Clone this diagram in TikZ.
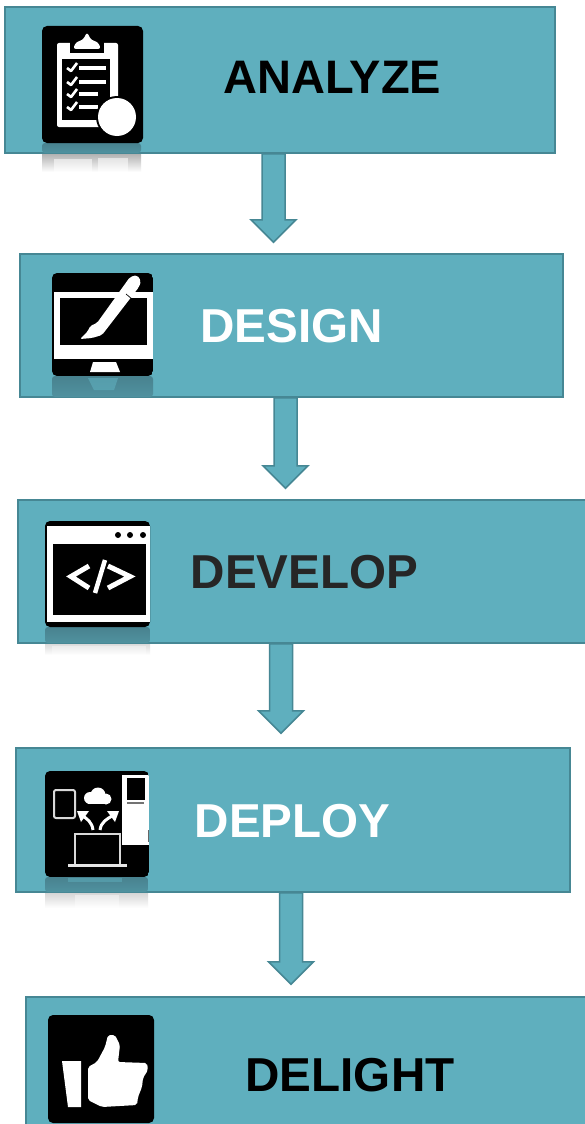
\documentclass[tikz,border=0pt]{standalone}
\usepackage{fontspec}
\setmainfont{Liberation Sans}
\usetikzlibrary{calc}
\definecolor{tealfill}{RGB}{95,175,190}
\definecolor{tealline}{RGB}{70,135,148}
\definecolor{tealdark}{RGB}{72,130,143}
\tikzset{
  box/.style={draw=tealline,fill=tealfill,line width=1.5pt,rectangle,inner sep=0pt},
  blockarrow/.style={draw=tealline,fill=tealfill,line width=1.5pt,line join=miter},
  label/.style={font=\bfseries\fontsize{47.6}{50}\selectfont,inner sep=0pt},
  iconbg/.style={fill=black,rounded corners=5pt},
  wline/.style={draw=white,line width=3.2pt},
  wthin/.style={draw=white,line width=2.6pt,line join=round},
}
\newcommand{\blockarr}[5]{%
  \coordinate (#4) at (#3,0);
  \draw[blockarrow] let \p1=(#1.south -| #4), \p2=(#2.north -| #4) in
    (\x1-11.5pt,\y1) -- (\x1+11.5pt,\y1) -- (\x1+11.5pt,\y2+#5pt+22.5pt) -- (\x1+22.5pt,\y2+#5pt+22.5pt)
    -- (\x1,\y2+#5pt) -- (\x1-22.5pt,\y2+#5pt+22.5pt) -- (\x1-11.5pt,\y2+#5pt+22.5pt) -- cycle;
}
% x1, x2, icon bottom, box bottom, fade end, gray strength
\newcommand{\reflectbar}[6]{%
  \shade[top color=tealdark,bottom color=tealdark!65!tealfill,rounded corners=3pt] (#1,#3) rectangle (#2,#4);
  \shade[top color=black!#6,bottom color=white] (#1,#4+1) rectangle (#2,#5);
}
\begin{document}
\begin{tikzpicture}[x=1pt,y=-1pt]
\clip (0,0) rectangle (585,1124);
\fill[white] (0,0) rectangle (585,1124);
% boxes
\node[box,minimum width=550pt,minimum height=146pt] (b1) at (280,80) {};
\node[box,minimum width=543pt,minimum height=143pt] (b2) at (291.5,325.5) {};
\node[box,minimum width=572pt,minimum height=143pt] (b3) at (304,571.5) {};
\node[box,minimum width=554pt,minimum height=144pt] (b4) at (293,820) {};
\node[box,minimum width=566pt,minimum height=140pt] (b5) at (309,1067) {};
% arrows
\blockarr{b1}{b2}{273.5}{a1}{11}
\blockarr{b2}{b3}{285.5}{a2}{11}
\blockarr{b3}{b4}{281}{a3}{14}
\blockarr{b4}{b5}{291}{a4}{12}
% reflections
\reflectbar{42}{141}{143}{153}{172}{30}
\reflectbar{52}{153}{376}{397}{398}{5}
\reflectbar{45}{150}{627}{643}{655}{14}
\reflectbar{45}{148}{877}{892}{908}{16}
% reflection details
\fill[white,opacity=.55] (54,159) rectangle (92,172);
\fill[white,opacity=.55] (98,158) rectangle (128,172);
\fill[tealfill,opacity=.6] (88,378) -- (118,378) -- (114,390) -- (94,390) -- cycle;
\fill[white,opacity=.35] (52,646) rectangle (146,655);
\fill[white,opacity=.4] (75,895) rectangle (119,908);
\fill[tealfill,opacity=.5] (68,878) rectangle (122,882);
% icon 1: clipboard
\begin{scope}
\fill[iconbg] (42,26) rectangle (143,143);
\fill[white,rounded corners=2pt] (57,43) rectangle (118,127);
\fill[black] (62,59) rectangle (110,120);
\fill[black] (70,38) rectangle (104,53);
\fill[white,rounded corners=3pt] (73,49) -- (76,42) -- (83,40) -- (87,32) -- (91,40) -- (98,42) -- (101,49) -- cycle;
\foreach \yy/\xe in {68/106,82/106,94/98,107/98}{
  \draw[wline] (79,\yy) -- (\xe,\yy);
  \draw[wthin] (67,\yy) -- (71,\yy+3) -- (77,\yy-5);
}
\fill[black] (117,117) circle (21);
\fill[white] (117,117) circle (19);
\end{scope}
% icon 2: monitor and pen
\begin{scope}
\path[clip,rounded corners=5pt] (52,273) rectangle (153,376);
\fill[black] (52,273) rectangle (153,376);
\fill[white] (54,292) rectangle (153,359);
\fill[black] (60,298) rectangle (147,345);
\fill[white] (93,362) -- (116,362) -- (120,372) -- (90,372) -- cycle;
\fill[white,rounded corners=2pt] (130,277) -- (137,275) -- (141,281) -- (139,287) -- (102,335) -- (92,338) -- (80,339) -- (88,331) -- (90,326) -- (97,323) -- cycle;
\draw[black,line width=.7pt] (126,294) -- (132,299);
\end{scope}
% icon 3: code window
\begin{scope}
\fill[iconbg] (45,521) rectangle (150,627);
\fill[white] (47,526) rectangle (150,622);
\fill[black] (53,544) rectangle (146,615);
\foreach \xx in {118,130,143}{\fill[black] (\xx,535) circle (3);}
\draw[white,line width=5pt,line join=miter] (89,566) -- (71,576.5) -- (89,588);
\draw[white,line width=5pt,line join=miter] (108,566) -- (130,576.5) -- (108,588);
\draw[white,line width=4.5pt] (105,560) -- (95,593);
\end{scope}
% icon 4: deploy
\begin{scope}
\path[clip,rounded corners=5pt] (45,771) rectangle (149,877);
\fill[black] (45,771) rectangle (149,877);
\draw[black!15,line width=2pt,rounded corners=2pt] (54,790) rectangle (75,818);
\fill[white] (90,798) circle (6);
\fill[white] (98,795) circle (7.5);
\fill[white] (106,799) circle (5.5);
\fill[white] (88,798) rectangle (108,803.5);
\draw[wthin,line width=3pt] (93,830) .. controls (92,822) and (87,819) .. (83,816);
\fill[white] (77,811) -- (89,811) -- (81,822) -- cycle;
\draw[wthin,line width=3pt] (100,830) .. controls (101,822) and (107,819) .. (112,816);
\fill[white] (119,811) -- (107,811) -- (115,822) -- cycle;
\draw[black!15,line width=2pt] (75,864) -- (75,834) -- (120,834) -- (120,864);
\draw[black!10,line width=3pt] (68,865) -- (127,865);
\fill[white] (122,775) rectangle (149,845);
\fill[black] (127,778) rectangle (145,800);
\fill[black!55] (127,802) rectangle (144,804);
\fill[black!60] (148,830) rectangle (149,842);
\end{scope}
% icon 5: thumbs up
\begin{scope}
\fill[iconbg] (48,1015) rectangle (154,1123);
\fill[white] (62,1061) -- (81,1061) -- (81,1107) -- (68,1107) -- cycle;
\fill[white,rounded corners=2pt] (88,1067) -- (97,1062) -- (105,1047) -- (108,1035) -- (115,1035) -- (120,1045) -- (118,1062) -- (147,1063) -- (148,1070) -- (143,1078) -- (142,1087) -- (138,1097) -- (137,1105) -- (102,1107) -- (88,1100) -- cycle;
\end{scope}
% labels
\node[label,text=black,font=\bfseries\fontsize{47}{50}\selectfont] (t1) at (332.5,77) {ANALYZE};
\node[label,text=white] (t2) at (291.5,326) {DESIGN};
\node[label,text=black!85] (t3) at (304.5,572) {DEVELOP};
\node[label,text=white] (t4) at (292.5,821) {DEPLOY};
\node[label,text=black] (t5) at (350,1075) {DELIGHT};
\end{tikzpicture}
\end{document}
